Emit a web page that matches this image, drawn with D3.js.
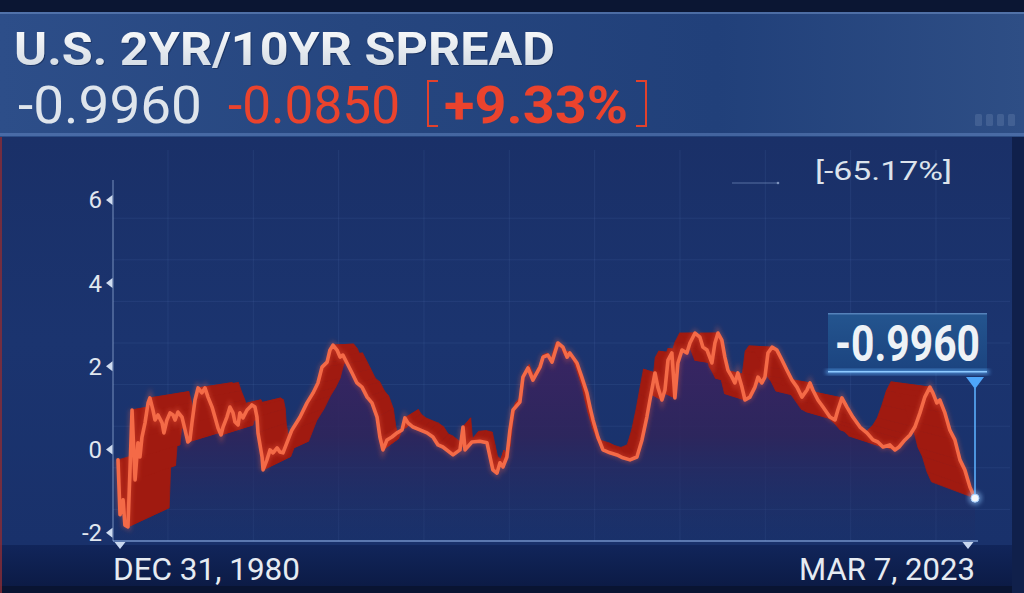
<!DOCTYPE html>
<html><head><meta charset="utf-8">
<script src="https://cdn.jsdelivr.net/npm/d3@7"></script>
<style>html,body{margin:0;padding:0;background:#0b1633;overflow:hidden}svg{display:block}</style>
</head><body><svg id="c" width="1024" height="593"></svg>
<script>
// ---------- DATA ----------
const years = [1981.00,1981.10,1981.25,1981.34,1981.49,1981.59,1981.69,1981.84,1981.98,1982.08,1982.18,1982.33,1982.48,1982.57,1982.72,1982.82,1982.97,1983.17,1983.26,1983.41,1983.56,1983.71,1983.81,1983.95,1984.15,1984.30,1984.44,1984.54,1984.64,1984.79,1984.94,1985.13,1985.28,1985.43,1985.63,1985.77,1985.92,1986.07,1986.17,1986.36,1986.51,1986.66,1986.76,1986.91,1987.00,1987.15,1987.35,1987.50,1987.59,1987.74,1987.84,1987.89,1988.09,1988.14,1988.33,1988.48,1988.63,1988.83,1988.97,1989.12,1989.56,1989.96,1990.30,1990.60,1990.84,1991.04,1991.29,1991.43,1991.58,1991.78,1991.93,1992.07,1992.27,1992.52,1992.76,1993.01,1993.26,1993.50,1993.75,1993.89,1994.04,1994.24,1994.48,1994.73,1994.98,1995.12,1995.27,1995.52,1995.86,1996.21,1996.50,1996.75,1996.99,1997.49,1997.83,1997.98,1998.08,1998.42,1998.81,1999.16,1999.31,1999.45,1999.65,1999.80,1999.95,2000.14,2000.29,2000.44,2000.78,2000.93,2001.18,2001.42,2001.77,2001.92,2002.16,2002.36,2002.65,2002.90,2003.10,2003.24,2003.59,2003.83,2004.08,2004.23,2004.38,2004.62,2004.87,2005.21,2005.56,2005.85,2006.20,2006.54,2006.79,2007.03,2007.18,2007.43,2007.57,2007.77,2007.92,2008.07,2008.26,2008.41,2008.56,2008.76,2009.00,2009.15,2009.40,2009.64,2009.79,2009.99,2010.23,2010.38,2010.53,2010.72,2010.87,2011.02,2011.22,2011.36,2011.51,2011.71,2011.86,2012.10,2012.35,2012.50,2012.69,2012.84,2012.99,2013.19,2013.43,2013.68,2013.92,2014.17,2014.42,2014.66,2014.91,2015.06,2015.20,2015.45,2015.70,2016.04,2016.29,2016.43,2016.63,2016.88,2017.17,2017.52,2017.86,2018.16,2018.40,2018.65,2018.99,2019.24,2019.44,2019.73,2019.98,2020.22,2020.47,2020.71,2020.96,2021.11,2021.30,2021.45,2021.70,2021.94,2022.19,2022.44,2022.68,2022.93,2023.18];
const spread = [-0.31,-1.63,-1.27,-1.88,-1.92,-0.55,0.89,-0.79,0.10,-0.24,0.24,0.58,1.06,1.18,0.89,0.65,0.77,0.58,0.34,0.65,0.82,0.77,0.65,0.84,0.72,0.41,0.12,0.17,0.58,1.13,1.42,1.30,1.42,1.20,0.96,0.72,0.46,0.29,0.48,0.72,0.96,0.82,0.60,0.53,0.82,0.70,0.89,0.96,1.01,0.96,0.72,0.34,-0.24,-0.55,-0.31,-0.07,-0.14,-0.02,-0.12,-0.14,0.41,0.72,1.06,1.30,1.54,1.92,2.04,2.33,2.45,2.33,2.16,2.21,2.02,1.78,1.54,1.44,1.20,1.06,0.72,0.24,-0.07,0.17,0.24,0.34,0.41,0.70,0.58,0.48,0.41,0.34,0.24,0.05,0.00,-0.19,-0.07,0.48,-0.07,0.12,0.14,0.10,-0.24,-0.55,-0.63,-0.38,-0.48,-0.24,0.41,0.89,1.08,1.68,1.90,1.61,1.92,2.16,2.21,2.04,2.50,2.40,2.16,2.26,2.02,1.68,1.30,0.96,0.65,0.24,-0.07,-0.14,-0.19,-0.26,-0.31,-0.24,0.17,0.72,1.13,1.78,1.44,1.13,1.37,2.09,2.26,1.18,2.02,2.33,2.26,2.50,2.74,2.64,2.40,2.33,2.02,2.50,2.74,2.57,2.16,1.85,1.68,1.54,1.78,1.44,1.13,1.20,1.44,1.68,1.54,1.68,2.26,2.40,2.33,2.09,1.85,1.61,1.44,1.20,1.37,1.54,1.37,1.13,0.96,0.72,0.65,0.89,1.18,0.96,0.72,0.48,0.34,0.17,0.12,0.00,0.05,-0.07,0.00,0.17,0.29,0.48,0.82,1.20,1.44,1.30,1.06,1.13,0.82,0.41,0.17,-0.31,-0.55,-0.96,-1.23];
const yTicks = [6, 4, 2, 0, -2];
const gridValues = [-1.5, -0.5, 0.5, 1.5, 2.5, 3.5, 4.5, 5.5];
const gridYears = [1983.46, 1987.66, 1991.86, 1996.06, 2000.26, 2004.46, 2008.66, 2012.86, 2017.06, 2021.26];
const titleText = "U.S. 2YR/10YR SPREAD";
const lastText = "-0.9960";
const changeText = "-0.0850";
const pctText = "+9.33%";
const periodPct = "[-65.17%]";
const startLabel = "DEC 31, 1980";
const endLabel = "MAR 7, 2023";

// ---------- SETUP ----------
const svg = d3.select("#c");
const defs = svg.append("defs");
const F = "Roboto, 'Liberation Sans', Arial, sans-serif";

function lg(id, stops, x2, y2, user, coords) {
  const g = defs.append("linearGradient").attr("id", id);
  if (user) { g.attr("gradientUnits", "userSpaceOnUse").attr("x1", coords[0]).attr("y1", coords[1]).attr("x2", coords[2]).attr("y2", coords[3]); }
  else { g.attr("x1", 0).attr("y1", 0).attr("x2", x2).attr("y2", y2); }
  stops.forEach(s => g.append("stop").attr("offset", s[0]).attr("stop-color", s[1]).attr("stop-opacity", s[2] == null ? 1 : s[2]));
}
lg("hdr", [[0, "#2d4e89"], [0.35, "#26467f"], [0.7, "#21407a"], [1, "#2e4e85"]], 1, 0);
lg("panel", [[0, "#1a3068"], [0.5, "#1b346f"], [1, "#19316b"]], 0, 1);
lg("bottom", [[0, "#11255a"], [1, "#0c1b46"]], 0, 1);
lg("titleG", [[0, "#ffffff"], [1, "#cdd6e0"]], 0, 1);
lg("areaG", [[0, "#3d2464", 0.97], [0.5, "#30245a", 0.85], [1, "#1c2f66", 0.15]], 0, 0, true, [0, 330, 0, 541]);
lg("boxG", [[0, "#24558f"], [1, "#1b437f"]], 0, 1);

const glow = defs.append("filter").attr("id", "glow").attr("x", "-20%").attr("y", "-50%").attr("width", "140%").attr("height", "200%");
glow.append("feGaussianBlur").attr("stdDeviation", 2);

// ---------- BACKGROUND ----------
svg.append("rect").attr("x", 0).attr("y", 0).attr("width", 1024).attr("height", 593).attr("fill", "#0b1633");
svg.append("rect").attr("x", 0).attr("y", 12).attr("width", 1024).attr("height", 125).attr("fill", "url(#hdr)");
svg.append("rect").attr("x", 0).attr("y", 12).attr("width", 1024).attr("height", 2).attr("fill", "#6f8fc4").attr("opacity", 0.55);
svg.append("rect").attr("x", 0).attr("y", 133).attr("width", 1024).attr("height", 3).attr("fill", "#6c90cc").attr("opacity", 0.45);
svg.append("rect").attr("x", 0).attr("y", 137).attr("width", 1024).attr("height", 408).attr("fill", "url(#panel)");
svg.append("rect").attr("x", 0).attr("y", 545).attr("width", 1024).attr("height", 41).attr("fill", "url(#bottom)");
svg.append("rect").attr("x", 0).attr("y", 586).attr("width", 1024).attr("height", 7).attr("fill", "#091432");
svg.append("rect").attr("x", 1012).attr("y", 137).attr("width", 12).attr("height", 456).attr("fill", "#10204b");
svg.append("rect").attr("x", 0).attr("y", 137).attr("width", 2).attr("height", 456).attr("fill", "#8a2d36").attr("opacity", 0.8);

d3.range(4).forEach(i => svg.append("rect").attr("x", 975 + i * 11).attr("y", 114).attr("width", 7).attr("height", 12).attr("rx", 1.5).attr("fill", "#8fa6c8").attr("opacity", 0.22));

// ---------- SCALES ----------
const x = d3.scaleLinear().domain([1981, 2023.18]).range([118, 975]);
const y = d3.scaleLinear().domain([-2, 6]).range([530.2, 197.4]);
const axisY = 541, axisX = 113;

const grid = svg.append("g").attr("stroke", "#5d7fbf").attr("stroke-opacity", 0.15).attr("stroke-width", 1);
gridValues.forEach(v => grid.append("line").attr("x1", axisX).attr("x2", 1010).attr("y1", y(v)).attr("y2", y(v)));
gridYears.forEach(t => grid.append("line").attr("x1", x(t)).attr("x2", x(t)).attr("y1", 150).attr("y2", axisY));

// ---------- SERIES ----------
const pts = years.map((t, i) => [x(t), y(spread[i])]);
const VP = [540, 335], k = 0.1;
const back = pts.map(p => [p[0] + k * (VP[0] - p[0]), p[1] + k * (VP[1] - p[1])]);

const area = d3.area().x(d => d[0]).y0(axisY - 1).y1(d => d[1]);
svg.append("path").datum(pts).attr("d", area).attr("fill", "url(#areaG)");

const rib = svg.append("g").attr("fill", "#a01a10").attr("stroke", "#a01a10").attr("stroke-width", 0.8).attr("stroke-linejoin", "round");
for (let i = 0; i < pts.length - 1; i++) {
  const poly = [pts[i], pts[i + 1], back[i + 1], back[i]];
  rib.append("path").attr("d", "M" + poly.map(p => p.join(",")).join("L") + "Z");
}

const line = d3.line().x(d => d[0]).y(d => d[1]);
svg.append("path").datum(pts).attr("d", line).attr("fill", "none").attr("stroke", "#ff6a45").attr("stroke-opacity", 0.3).attr("stroke-width", 6).attr("filter", "url(#glow)");
svg.append("path").datum(pts).attr("d", line).attr("fill", "none").attr("stroke", "#f46a47").attr("stroke-width", 3.6).attr("stroke-linejoin", "round").attr("stroke-linecap", "round");

// ---------- AXES ----------
svg.append("line").attr("x1", axisX).attr("x2", axisX).attr("y1", 180).attr("y2", axisY).attr("stroke", "#9fb8de").attr("stroke-opacity", 0.55).attr("stroke-width", 1.3);
svg.append("line").attr("x1", axisX).attr("x2", 978).attr("y1", axisY + 1).attr("y2", axisY + 1).attr("stroke", "#7fa6ee").attr("stroke-opacity", 0.5).attr("stroke-width", 3).attr("filter", "url(#glow)");
svg.append("line").attr("x1", axisX).attr("x2", 978).attr("y1", axisY).attr("y2", axisY).attr("stroke", "#8fb0e6").attr("stroke-opacity", 0.75).attr("stroke-width", 1.5);

const yt = svg.append("g");
yTicks.forEach(v => {
  const cy = y(v) + 2.5;
  yt.append("text").attr("x", 102).attr("y", cy + 8.5).attr("text-anchor", "end")
    .attr("font-family", F).attr("font-size", 24).attr("fill", "#e1e7ef").text(v);
  yt.append("path").attr("d", `M106,${cy}L112.5,${cy - 5}L112.5,${cy + 5}Z`).attr("fill", "#cfdcf0");
});
[years[0], years[years.length - 1]].forEach((t, i) => {
  const px = i === 0 ? x(t) + 2 : x(t) - 7;
  svg.append("path").attr("d", `M${px - 5.5},${axisY + 1}L${px + 5.5},${axisY + 1}L${px},${axisY + 8}Z`).attr("fill", "#c9d8f0");
});

svg.append("text").attr("x", 113).attr("y", 580).attr("font-family", F).attr("font-size", 31).attr("fill", "#e6ebf2")
  .attr("textLength", 187).attr("lengthAdjust", "spacingAndGlyphs").text(startLabel);
svg.append("text").attr("x", 799).attr("y", 580).attr("font-family", F).attr("font-size", 31).attr("fill", "#e6ebf2")
  .attr("textLength", 176).attr("lengthAdjust", "spacingAndGlyphs").text(endLabel);

// ---------- HEADER TEXT ----------
svg.append("text").attr("x", 15).attr("y", 66).attr("font-family", F).attr("font-weight", 700).attr("font-size", 46)
  .attr("fill", "#0d1d40").attr("opacity", 0.45).attr("textLength", 541).attr("lengthAdjust", "spacingAndGlyphs").text(titleText);
svg.append("text").attr("x", 14).attr("y", 65).attr("font-family", F).attr("font-weight", 700).attr("font-size", 46)
  .attr("fill", "url(#titleG)").attr("textLength", 541).attr("lengthAdjust", "spacingAndGlyphs").text(titleText);

svg.append("text").attr("x", 18).attr("y", 123).attr("font-family", F).attr("font-size", 52).attr("fill", "#dfe5ec")
  .attr("textLength", 184).attr("lengthAdjust", "spacingAndGlyphs").text(lastText);
svg.append("text").attr("x", 228).attr("y", 123).attr("font-family", F).attr("font-size", 52).attr("fill", "#ea432d")
  .attr("textLength", 172).attr("lengthAdjust", "spacingAndGlyphs").text(changeText);
const br = svg.append("g").attr("fill", "none").attr("stroke", "#e2412c").attr("stroke-width", 2);
br.append("path").attr("d", "M438,81H428V126H438");
br.append("path").attr("d", "M636,81H646V126H636");
svg.append("text").attr("x", 444).attr("y", 123).attr("font-family", F).attr("font-weight", 700).attr("font-size", 52).attr("fill", "#ea432d")
  .attr("textLength", 184).attr("lengthAdjust", "spacingAndGlyphs").text(pctText);

// ---------- TOP RIGHT ----------
svg.append("line").attr("x1", 732).attr("x2", 777).attr("y1", 183).attr("y2", 183).attr("stroke", "#8aa6d2").attr("stroke-opacity", 0.55).attr("stroke-width", 1.2);
svg.append("circle").attr("cx", 778).attr("cy", 183).attr("r", 1.3).attr("fill", "#a8bee0").attr("opacity", 0.7);
svg.append("text").attr("x", 815).attr("y", 180).attr("font-family", F).attr("font-size", 25).attr("fill", "#dce3ec")
  .attr("textLength", 137).attr("lengthAdjust", "spacingAndGlyphs").text(periodPct);

// ---------- LAST VALUE MARKER ----------
const last = pts[pts.length - 1];
svg.append("rect").attr("x", 828).attr("y", 313).attr("width", 159).attr("height", 59).attr("fill", "url(#boxG)");
svg.append("rect").attr("x", 828).attr("y", 313).attr("width", 159).attr("height", 1.5).attr("fill", "#6b95cc").attr("opacity", 0.7);
svg.append("rect").attr("x", 826).attr("y", 370).attr("width", 163).attr("height", 4).attr("fill", "#62b2ff").attr("opacity", 0.8).attr("filter", "url(#glow)");
svg.append("rect").attr("x", 828).attr("y", 371).attr("width", 159).attr("height", 1.5).attr("fill", "#8fcaff");
svg.append("text").attr("x", 835).attr("y", 361).attr("font-family", F).attr("font-weight", 700).attr("font-size", 50).attr("fill", "#eef2f6")
  .attr("textLength", 145).attr("lengthAdjust", "spacingAndGlyphs").text(lastText);
svg.append("path").attr("d", `M${last[0] - 9},377L${last[0] + 9},377L${last[0]},389Z`).attr("fill", "#4ea6fb");
svg.append("line").attr("x1", last[0]).attr("x2", last[0]).attr("y1", 388).attr("y2", last[1]).attr("stroke", "#5aaefc").attr("stroke-width", 1.6);
svg.append("circle").attr("cx", last[0]).attr("cy", last[1]).attr("r", 7).attr("fill", "#8ec6ff").attr("opacity", 0.5).attr("filter", "url(#glow)");
svg.append("circle").attr("cx", last[0]).attr("cy", last[1]).attr("r", 4).attr("fill", "#f4f7fb").attr("stroke", "#a9d2ff").attr("stroke-width", 1);
</script></body></html>
